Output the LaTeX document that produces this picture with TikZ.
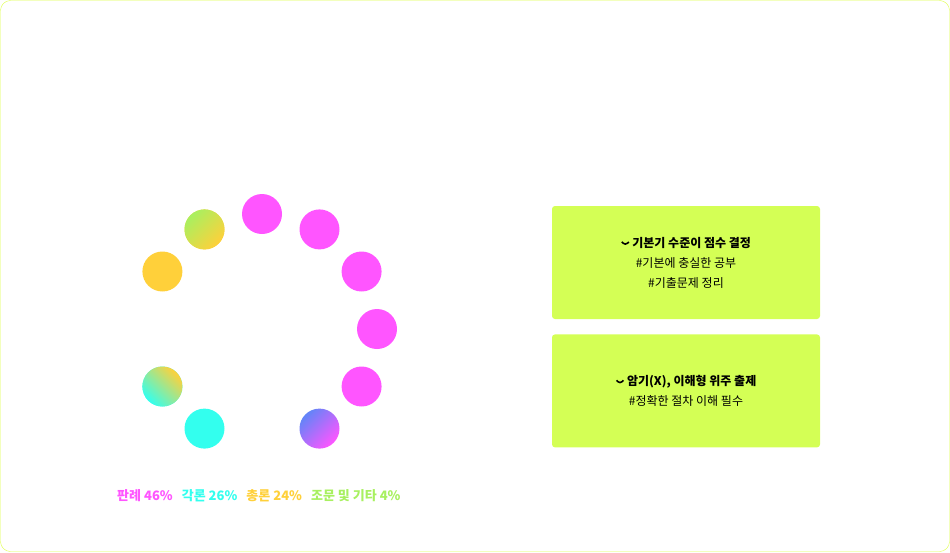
\documentclass[tikz,border=0pt]{standalone}
\usepackage{fontspec}
\setmainfont{Noto Sans CJK KR}
\usetikzlibrary{positioning}
\definecolor{pk}{HTML}{FF55FF}
\definecolor{cy}{HTML}{33FFEE}
\definecolor{ye}{HTML}{FFD03A}
\definecolor{gr}{HTML}{D4FF55}
\definecolor{lg}{HTML}{A8F060}
\newcommand{\chev}{\tikz[baseline=-0.5ex]\draw[line width=1.6pt] (0,2pt) -- (3.5pt,-1.5pt) -- (7pt,2pt);}
\begin{document}
\begin{tikzpicture}[x=1pt, y=-1pt]
    \tikzset{dot/.style={circle, minimum size=40pt, inner sep=0pt},
        card/.style={fill=gr, rounded corners=3pt, minimum width=268pt,
            minimum height=113pt, align=center, font=\fontsize{12}{20}\selectfont},
        legend/.style={font=\bfseries\fontsize{13}{15}\selectfont}}
    \draw[gr!80!yellow, rounded corners=10pt] (0.5,0.5) rectangle (949.5,551.5);
    \useasboundingbox (0,0) rectangle (950,552);

    % ring of dots
    \foreach \i/\c in {0/pk,1/pk,2/pk,3/pk,4/pk,7/cy,8/cy,10/ye,11/ye}
        \node[dot, fill=\c] (d\i) at ({262+115*sin(30*\i)}, {329-115*cos(30*\i)}) {};
    \node[dot, shade, left color=pk, right color=cy!60!blue!70!pk, shading angle=-135]
        (d5) at ({262+115*sin(150)}, {329-115*cos(150)}) {};
    \node[dot, shade, left color=ye, right color=cy, shading angle=-45, ]
        (d6) at ({262+115*sin(240)}, {329-115*cos(240)}) {};
    \node[dot, shade, left color=ye, right color=lg, shading angle=-135]
        (d9) at ({262+115*sin(330)}, {329-115*cos(330)}) {};

    % legend
    \node[legend, text=pk] (l1) at (145,496) {판례 46\%};
    \node[legend, text=cy, right=2pt of l1] (l2) {각론 26\%};
    \node[legend, text=ye, right=2pt of l2] (l3) {총론 24\%};
    \node[legend, text=lg, right=2pt of l3] (l4) {조문 및 기타 4\%};

    % cards
    \node[card] (c1) at (686,262.5) {{\bfseries\chev\ 기본기 수준이 점수 결정}\\\#기본에 충실한 공부\\\#기출문제 정리};
    \node[card, below=15pt of c1] (c2) {{\bfseries\chev\ 암기(X), 이해형 위주 출제}\\\#정확한 절차 이해 필수};
\end{tikzpicture}
\end{document}
